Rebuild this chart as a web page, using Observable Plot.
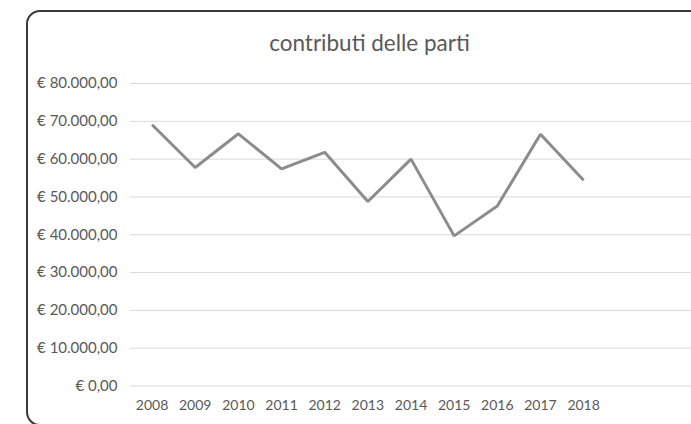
<!DOCTYPE html>
<html>
<head>
<meta charset="utf-8">
<script src="https://cdn.jsdelivr.net/npm/d3@7"></script>
<script src="https://cdn.jsdelivr.net/npm/@observablehq/plot@0.6"></script>
<style>
  html, body { margin: 0; padding: 0; background: #fff; overflow: hidden; }
  #wrap { position: relative; width: 691px; height: 424px; overflow: hidden; }
  #box { position: absolute; left: 26px; top: 10px; width: 700px; height: 416px;
         border: 2px solid #3a3a3a; border-radius: 14px; box-sizing: border-box; }
  #title { position: absolute; left: 27px; width: 685px; top: 29px; text-align: center;
           font-family: Lato, sans-serif; font-size: 22.5px; color: #595959; }
  #chart { position: absolute; left: 0; top: 0; }
</style>
</head>
<body>
<div id="wrap">
  <div id="box"></div>
  <div id="chart"></div>
  <div id="title">contributi delle parti</div>
</div>
<script>
const years = [2008, 2009, 2010, 2011, 2012, 2013, 2014, 2015, 2016, 2017, 2018];
const contributi = [69100, 57800, 66700, 57400, 61800, 48800, 60000, 39700, 47600, 66600, 54400];
const yTicks = [0, 10000, 20000, 30000, 40000, 50000, 60000, 70000, 80000];

const locale = d3.formatLocale({decimal: ",", thousands: ".", grouping: [3], currency: ["€ ", ""]});
const fmtEuro = locale.format("$,.2f");

const data = years.map((y, i) => ({year: y, value: contributi[i]}));

const chart = Plot.plot({
  width: 691,
  height: 424,
  marginTop: 83,
  marginBottom: 38.5,
  marginLeft: 130,
  marginRight: 0,
  style: {fontFamily: "Lato, sans-serif", fontSize: "14px", color: "#595959", background: "transparent"},
  x: {type: "linear", domain: [2007.5, 2020.5]},
  y: {domain: [0, 80000]},
  marks: [
    Plot.ruleY(yTicks, {stroke: "#d9d9d9", strokeWidth: 1}),
    Plot.axisY({ticks: yTicks, tickSize: 0, tickPadding: 13, tickFormat: fmtEuro, label: null, fill: "#595959", fontSize: 15}),
    Plot.axisX({ticks: years, tickSize: 0, tickPadding: 14, tickFormat: d => String(d), label: null, fill: "#595959", fontSize: 14}),
    Plot.line(data, {x: "year", y: "value", stroke: "#8c8c8c", strokeWidth: 3, strokeLinejoin: "miter", strokeLinecap: "butt"})
  ]
});
document.getElementById("chart").appendChild(chart);
</script>
</body>
</html>
